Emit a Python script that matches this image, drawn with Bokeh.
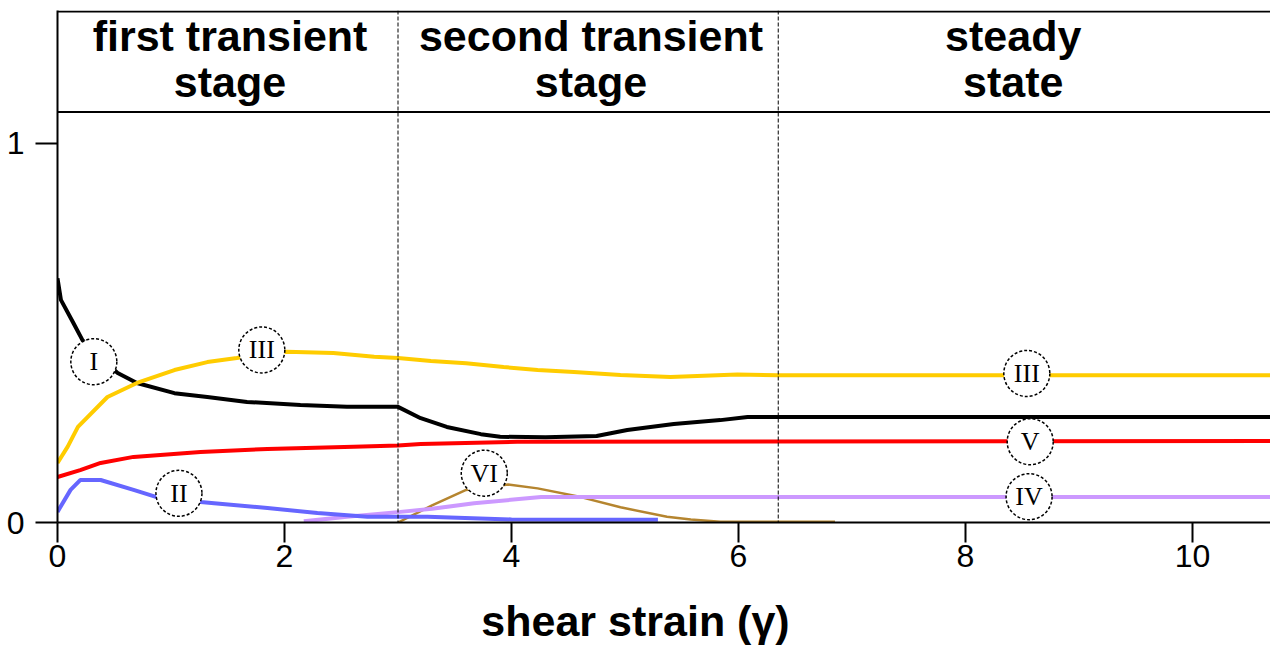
from bokeh.plotting import figure
from bokeh.layouts import column
from bokeh.models import Range1d, Span, FixedTicker
from bokeh.core.properties import value
from bokeh.embed import file_html
from bokeh.resources import INLINE

# Volume fractions of the fabric components versus shear strain
strain_I = [0, 0.03, 0.14, 0.22, 0.32, 0.53, 0.7, 1.03, 1.32, 1.67, 2.14, 2.55, 3.0,
            3.2, 3.43, 3.73, 3.9, 4.3, 4.75, 5.02, 5.43, 5.84, 6.08, 6.35, 10.69]
frac_I = [0.644, 0.587, 0.526, 0.481, 0.45, 0.394, 0.368, 0.341, 0.331, 0.318, 0.31, 0.305, 0.305,
          0.275, 0.252, 0.233, 0.226, 0.225, 0.228, 0.244, 0.26, 0.27, 0.278, 0.278, 0.278]

strain_II = [0, 0.115, 0.2, 0.38, 0.67, 0.86, 1.26, 1.38, 1.85, 2.29, 2.73, 3.0, 3.26, 4.0, 4.58, 5.29]
frac_II = [0.028, 0.086, 0.112, 0.112, 0.086, 0.068, 0.054, 0.051, 0.038, 0.025, 0.015, 0.015, 0.015,
           0.008, 0.007, 0.007]

strain_III = [0, 0.09, 0.18, 0.44, 0.7, 1.03, 1.32, 1.58, 1.8, 2.02, 2.43, 2.79, 3.0, 3.29, 3.6,
              3.93, 4.23, 4.55, 4.96, 5.4, 5.99, 6.35, 10.69]
frac_III = [0.157, 0.2, 0.252, 0.331, 0.368, 0.402, 0.423, 0.434, 0.445, 0.45, 0.447, 0.437, 0.434,
            0.426, 0.42, 0.41, 0.402, 0.397, 0.389, 0.384, 0.39, 0.388, 0.388]

strain_IV = [2.17, 2.55, 3.02, 3.3, 3.67, 4.26, 4.9, 10.69]
frac_IV = [0.003, 0.015, 0.028, 0.036, 0.051, 0.067, 0.067, 0.067]

strain_V = [0, 0.2, 0.38, 0.67, 1.26, 1.85, 2.61, 3.0, 3.2, 4.05, 10.69]
frac_V = [0.12, 0.138, 0.157, 0.173, 0.186, 0.194, 0.2, 0.203, 0.207, 0.213, 0.215]

strain_VI = [3.0, 3.3, 3.6, 3.97, 4.23, 4.61, 4.96, 5.37, 5.58, 5.84, 6.85]
frac_VI = [0.0, 0.045, 0.086, 0.1, 0.09, 0.067, 0.04, 0.015, 0.008, 0.002, 0.002]

# Boundaries between deformation stages and their names
stage_bounds = [3.0, 6.35]
stage_line1 = ["first transient", "second transient", "steady"]
stage_line2 = ["stage", "stage", "state"]
stage_centres = [1.52, 4.70, 8.42]

# Roman-numeral tags placed along the curves
tag_text = ["I", "III", "II", "VI", "III", "V", "IV"]
tag_x = [0.32, 1.80, 1.07, 3.76, 8.54, 8.57, 8.56]
tag_y = [0.424, 0.455, 0.077, 0.13, 0.393, 0.213, 0.068]

x_ticks = [0, 2, 4, 6, 8, 10]
y_ticks = [0, 1]
x_title = "shear strain (\u03b3)"

p = figure(frame_width=1213, frame_height=512,
           x_range=Range1d(0, 10.687), y_range=Range1d(0, 1.3502),
           output_backend="svg", toolbar_location=None,
           min_border_left=57, min_border_right=0, min_border_top=10, min_border_bottom=70)
p.outline_line_color = None
p.background_fill_color = "white"
p.border_fill_color = "white"
p.xgrid.visible = False
p.ygrid.visible = False

for ax in (p.xaxis[0], p.yaxis[0]):
    ax.axis_line_width = 2
    ax.axis_line_color = "black"
    ax.major_tick_line_width = 2
    ax.major_tick_line_color = "black"
    ax.major_tick_in = 0
    ax.minor_tick_line_color = None
    ax.major_label_text_font = "Liberation Sans"
    ax.major_label_text_font_size = "32px"
    ax.major_label_text_color = "black"

p.xaxis.ticker = FixedTicker(ticks=x_ticks)
p.xaxis.major_tick_out = 20
p.xaxis.major_label_standoff = 2

p.yaxis.ticker = FixedTicker(ticks=y_ticks)
p.yaxis.major_tick_out = 22
p.yaxis.major_label_standoff = 11

# header box: top border and separator line
p.add_layout(Span(location=1.3475, dimension="width", line_color="black", line_width=2))
p.add_layout(Span(location=1.0825, dimension="width", line_color="black", line_width=2))
for b in stage_bounds:
    p.add_layout(Span(location=b, dimension="height", line_color="black",
                      line_width=1, line_dash="4 2"))

p.text(stage_centres, [1.284] * 3, text=stage_line1, text_align="center",
       text_baseline="alphabetic", text_font=value("Liberation Sans"),
       text_font_size="43px", text_font_style="bold", text_color="black")
p.text(stage_centres, [1.162] * 3, text=stage_line2, text_align="center",
       text_baseline="alphabetic", text_font=value("Liberation Sans"),
       text_font_size="43px", text_font_style="bold", text_color="black")

p.line(strain_VI, frac_VI, line_color="#b5852f", line_width=2.5)
p.line(strain_IV, frac_IV, line_color="#cc99ff", line_width=4)
p.line(strain_II, frac_II, line_color="#6666ff", line_width=4)
p.line(strain_V, frac_V, line_color="#ff0000", line_width=4)
p.line(strain_I, frac_I, line_color="black", line_width=4)
p.line(strain_III, frac_III, line_color="#ffcc00", line_width=4)

p.scatter(tag_x, tag_y, marker="circle", size=46, fill_color="white",
          line_color="black", line_width=1.5, line_dash="3 2")
p.text(tag_x, tag_y, text=tag_text, text_align="center", text_baseline="middle",
       text_font=value("Liberation Serif"), text_font_size="26px", text_color="black")

# strip below the chart carrying the x-axis title; its frame spans the same
# pixels as the chart frame, with x measured in page pixels
q = figure(frame_width=1213, frame_height=59, x_range=Range1d(57, 1270), y_range=Range1d(0, 59),
           output_backend="svg", toolbar_location=None,
           min_border_left=57, min_border_right=0, min_border_top=0, min_border_bottom=0)
q.axis.visible = False
q.xgrid.visible = False
q.ygrid.visible = False
q.outline_line_color = None
q.background_fill_color = "white"
q.border_fill_color = "white"
q.text([635], [31], text=[x_title], text_align="center", text_baseline="middle",
       text_font=value("Liberation Sans"), text_font_size="43px",
       text_font_style="bold", text_color="black")

layout = column(p, q, spacing=0)
open("out.html", "w").write(file_html(layout, INLINE))
